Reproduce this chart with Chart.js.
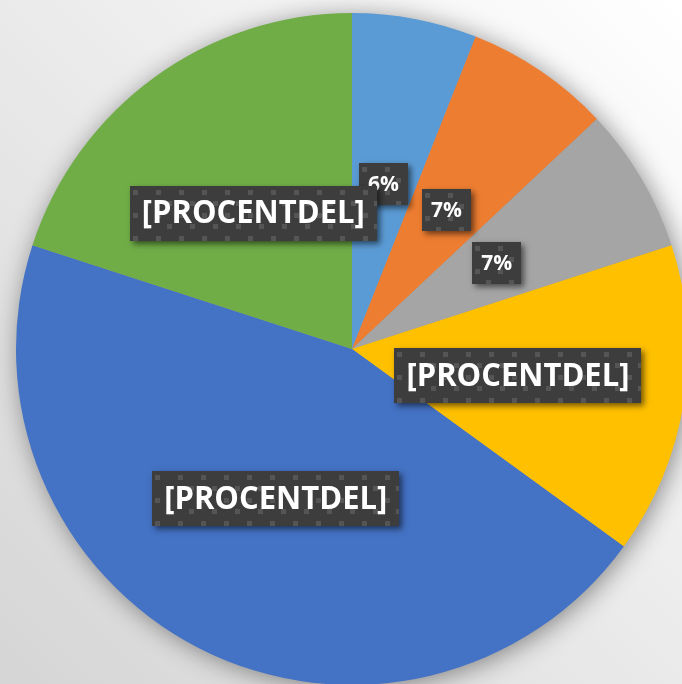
<!DOCTYPE html>
<html><head><meta charset="utf-8">
<script src="https://cdn.jsdelivr.net/npm/chart.js@4"></script>
<style>
html,body{margin:0;padding:0;width:682px;height:684px;overflow:hidden;}
body{background:linear-gradient(225deg,#ffffff 0%,#eaeaea 50%,#d5d5d5 100%);}
canvas{position:absolute;left:0;top:0;}
</style></head><body>
<canvas id="c" width="704" height="698"></canvas>
<script>
const categories = ['1','2','3','4','5','6'];
const values = [6, 7, 7, 15, 45, 20];
const labelTexts = ['6%', '7%', '7%', '[PROCENTDEL]', '[PROCENTDEL]', '[PROCENTDEL]'];
const colors = ['#5B9BD5', '#ED7D31', '#A5A5A5', '#FFC000', '#4472C4', '#70AD47'];

const FONT = '"Open Sans","Lato",sans-serif';
const BIG = {size: 33, h: 55, padX: 12, fitW: 223};
const SMALL = {size: 21, h: 42, padX: 9, fitW: 32};

const pieShadow = {
  id: 'pieShadow',
  beforeDatasetsDraw(chart) {
    const a = chart.getDatasetMeta(0).data[0];
    const ctx = chart.ctx;
    ctx.save();
    ctx.shadowColor = 'rgba(0,0,0,0.45)';
    ctx.shadowBlur = 26;
    ctx.shadowOffsetX = 3;
    ctx.shadowOffsetY = 3;
    ctx.fillStyle = '#999';
    ctx.beginPath();
    ctx.arc(a.x, a.y, a.outerRadius - 1, 0, Math.PI * 2);
    ctx.fill();
    ctx.restore();
  }
};

function makeTile() {
  const t = document.createElement('canvas');
  t.width = 23; t.height = 23;
  const c = t.getContext('2d');
  c.fillStyle = '#3d3d3d'; c.fillRect(0, 0, 23, 23);
  c.fillStyle = '#555555';
  c.fillRect(0, 0, 5, 5);
  c.fillRect(11, 11, 5, 5);
  return t;
}

const boxLabels = {
  id: 'boxLabels',
  afterDatasetsDraw(chart) {
    const ctx = chart.ctx;
    const meta = chart.getDatasetMeta(0);
    const tile = makeTile();
    ctx.save();
    meta.data.forEach((el, i) => {
      const txt = labelTexts[i];
      const st = txt.length > 4 ? BIG : SMALL;
      const p = el.tooltipPosition();
      ctx.font = 'bold ' + st.size + 'px ' + FONT;
      const raw = ctx.measureText(txt).width;
      const sx = Math.min(1, st.fitW / raw);
      const tw = raw * sx;
      const w = tw + st.padX * 2, h = st.h;
      const x0 = Math.round(p.x - w / 2), y0 = Math.round(p.y - h / 2);
      const pat = ctx.createPattern(tile, 'repeat');
      pat.setTransform(new DOMMatrix().translate(x0 + 3, y0 + 4));
      ctx.save();
      ctx.shadowColor = 'rgba(0,0,0,0.55)';
      ctx.shadowBlur = 6;
      ctx.shadowOffsetX = 3;
      ctx.shadowOffsetY = 3;
      ctx.fillStyle = '#3d3d3d';
      ctx.fillRect(x0, y0, w, h);
      ctx.restore();
      ctx.fillStyle = pat;
      ctx.fillRect(x0, y0, w, h);
      ctx.save();
      ctx.translate(p.x, p.y + 1);
      ctx.scale(sx, 1);
      ctx.fillStyle = '#ffffff';
      ctx.textAlign = 'center';
      ctx.textBaseline = 'middle';
      ctx.fillText(txt, 0, 0);
      ctx.restore();
    });
    ctx.restore();
  }
};

new Chart(document.getElementById('c'), {
  type: 'pie',
  data: {
    labels: categories,
    datasets: [{
      data: values,
      backgroundColor: colors,
      borderWidth: 0
    }]
  },
  options: {
    responsive: false,
    animation: false,
    devicePixelRatio: 1,
    layout: {padding: 13},
    plugins: {legend: {display: false}, tooltip: {enabled: false}}
  },
  plugins: [pieShadow, boxLabels]
});
</script>
</body></html>
